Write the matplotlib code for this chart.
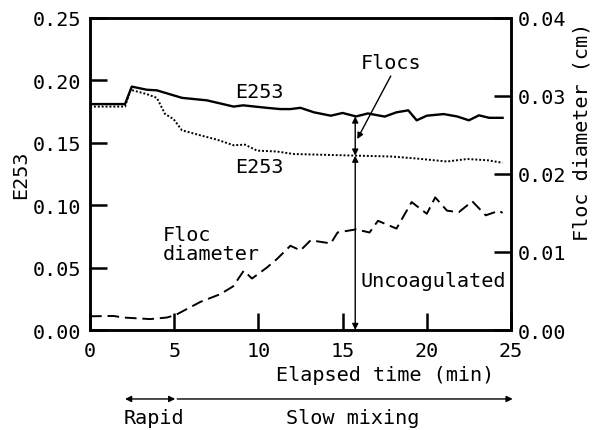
import numpy as np
import matplotlib
matplotlib.use("Agg")
import matplotlib.pyplot as plt

plt.rcParams['font.family'] = ['DejaVu Sans Mono']

# ---------------- data ----------------
# E253, upper (solid) curve
t_solid = [0, 2.08, 2.48, 3.37, 3.97, 5.46, 6.94, 8.53, 9.1, 10.5, 11.3, 11.9,
           12.5, 13.3, 14.3, 15.0, 15.8, 16.5, 17.5, 18.2, 18.9, 19.4, 20.0,
           21.0, 21.8, 22.5, 23.1, 23.7, 24.5]
e_solid = [0.181, 0.181, 0.195, 0.1925, 0.192, 0.186, 0.184, 0.179, 0.180,
           0.178, 0.177, 0.177, 0.178, 0.1744, 0.1717, 0.1739, 0.1711, 0.1735,
           0.171, 0.1744, 0.176, 0.168, 0.1717, 0.173, 0.1711, 0.168, 0.172,
           0.170, 0.170]

# E253, lower (dotted) curve
t_dot = [0, 2.08, 2.4, 3.37, 3.97, 4.46, 4.96, 5.46, 6.55, 7.54, 8.53, 9.2,
         9.92, 11.1, 12.1, 15.8, 17.9, 19.3, 21.2, 22.4, 23.6, 24.5]
e_dot = [0.179, 0.179, 0.1925, 0.189, 0.186, 0.173, 0.169, 0.160, 0.156,
         0.1525, 0.148, 0.1485, 0.1437, 0.143, 0.141, 0.1397, 0.139, 0.1375,
         0.135, 0.137, 0.136, 0.134]

# floc diameter (cm), dashed curve
t_floc = [0, 1.39, 1.98, 3.57, 4.56, 5.06, 6.55, 7.74, 8.5, 9.13, 9.62, 10.5,
          11.1, 11.9, 12.5, 13.1, 14.3, 14.7, 15.8, 16.6, 17.1, 18.2, 19.1,
          20.0, 20.5, 21.2, 21.9, 22.7, 23.5, 24.3, 24.5]
d_floc = [0.00176, 0.0018, 0.0016, 0.0014, 0.0016, 0.0019, 0.0036, 0.0046,
          0.0056, 0.0076, 0.0066, 0.0080, 0.0091, 0.0108, 0.0102, 0.0115,
          0.0111, 0.0125, 0.0129, 0.0125, 0.0140, 0.0130, 0.0164, 0.0149,
          0.0170, 0.0153, 0.0151, 0.0165, 0.0147, 0.0153, 0.0150]

x_ticks = [0, 5, 10, 15, 20, 25]
e_ticks = [0.00, 0.05, 0.10, 0.15, 0.20, 0.25]
d_ticks = [0.00, 0.01, 0.02, 0.03, 0.04]

t_mark = 15.75       # time of the vertical arrow line
e_solid_mark = 0.1711
e_dot_mark = 0.1397

fs = 14.5

# ---------------- figure ----------------
fig = plt.figure(figsize=(5.93, 4.31), dpi=100)
ax = fig.add_axes([0.1518, 0.232, 0.7099, 0.724])
ax2 = ax.twinx()

ax.plot(t_solid, e_solid, color='black', lw=1.7)
ax.plot(t_dot, e_dot, color='black', lw=1.4, dashes=(1, 1))
ax2.plot(t_floc, d_floc, color='black', lw=1.4, dashes=(6, 3))

ax.set_xlim(0, 25)
ax.set_ylim(0, 0.25)
ax2.set_ylim(0, 0.04)

ax.set_xticks(x_ticks)
ax.set_xticklabels([str(v) for v in x_ticks])
ax.set_yticks(e_ticks)
ax.set_yticklabels(['%.2f' % v for v in e_ticks])
ax2.set_yticks(d_ticks)
ax2.set_yticklabels(['%.2f' % v for v in d_ticks])

ax.tick_params(axis='both', direction='in', length=12, width=1.8,
               labelsize=fs, pad=6)
ax.tick_params(axis='x', pad=8)
ax2.tick_params(axis='y', direction='in', length=12, width=1.8,
                labelsize=fs, pad=5)
for a in (ax, ax2):
    for s in a.spines.values():
        s.set_linewidth(1.8)

# labels
fig.text(0.034, 0.594, 'E253', rotation=90, ha='center', va='center', fontsize=fs)
fig.text(0.982, 0.695, 'Floc diameter (cm)', rotation=90, ha='center',
         va='center', fontsize=fs)
ax.text(0.702, -0.144, 'Elapsed time (min)', transform=ax.transAxes,
        ha='center', va='center', fontsize=fs)

ax.text(8.6, 0.191, 'E253', ha='left', va='center', fontsize=fs)
ax.text(8.6, 0.131, 'E253', ha='left', va='center', fontsize=fs)
ax.text(4.29, 0.069, 'Floc\ndiameter', ha='left', va='center', fontsize=fs,
        linespacing=1.0)
ax.text(16.07, 0.040, 'Uncoagulated', ha='left', va='center', fontsize=fs)
ax.text(16.1, 0.214, 'Flocs', ha='left', va='center', fontsize=fs)

# arrows
arw = dict(arrowstyle='<|-|>', color='black', lw=1.0, mutation_scale=9,
           shrinkA=0, shrinkB=0)
ax.annotate('', xy=(t_mark, e_solid_mark), xytext=(t_mark, e_dot_mark),
            arrowprops=arw)
ax.annotate('', xy=(t_mark, e_dot_mark), xytext=(t_mark, 0.0),
            arrowprops=arw)
ax.annotate('', xy=(15.87, 0.153), xytext=(17.86, 0.2035),
            arrowprops=dict(arrowstyle='-|>', color='black', lw=1.0,
                            mutation_scale=9, shrinkA=0, shrinkB=0))

# mixing period arrows below the axis
ax.annotate('', xy=(2.08, -0.221), xytext=(5.06, -0.221),
            xycoords=('data', 'axes fraction'),
            textcoords=('data', 'axes fraction'),
            arrowprops=arw, annotation_clip=False)
ax.annotate('', xy=(25.1, -0.221), xytext=(5.18, -0.221),
            xycoords=('data', 'axes fraction'),
            textcoords=('data', 'axes fraction'),
            arrowprops=dict(arrowstyle='-|>', color='black', lw=1.0,
                            mutation_scale=9, shrinkA=0, shrinkB=0),
            annotation_clip=False)
ax.text(3.78, -0.279, 'Rapid', transform=ax.get_xaxis_transform(),
        ha='center', va='center', fontsize=fs)
ax.text(15.6, -0.279, 'Slow mixing', transform=ax.get_xaxis_transform(),
        ha='center', va='center', fontsize=fs)

fig.savefig('out.png', dpi=100)
